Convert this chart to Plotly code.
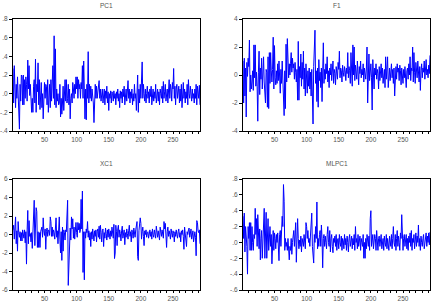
import numpy as np
import plotly.graph_objects as go

pc1 = [
 0.27,-0.1,0.3,0.05,-0.15,0.1,-0.05,0.18,0.02,-0.1,
 -0.38,0.1,-0.08,0.2,0.18,-0.12,0.2,-0.12,0.15,-0.05,
 0.18,0.1,-0.08,0.36,0.05,0.3,-0.02,0.1,-0.08,-0.2,
 -0.05,-0.2,0.08,0.15,-0.1,0.37,-0.2,0.1,0.02,0.33,
 -0.12,0.15,-0.17,0.08,0.12,-0.15,0.0,-0.27,0.05,0.12,
 -0.05,0.1,0.08,-0.12,0.15,-0.2,0.05,0.1,-0.15,0.15,
 -0.08,0.1,0.3,-0.05,0.62,-0.12,0.48,-0.15,0.05,-0.08,
 0.0,-0.12,-0.1,0.1,-0.25,-0.05,-0.22,-0.1,0.08,-0.18,
 -0.05,0.15,-0.08,0.15,-0.1,-0.05,0.1,-0.12,0.05,-0.27,
 -0.05,0.0,-0.1,0.12,0.05,-0.05,0.1,0.0,0.18,0.05,
 0.18,-0.05,0.15,0.05,0.1,-0.05,0.12,0.05,0.3,-0.05,
 0.35,-0.1,-0.27,0.05,-0.28,0.1,-0.05,0.45,-0.1,0.1,
 -0.05,0.08,-0.08,0.05,0.0,-0.1,-0.31,0.05,0.1,-0.05,
 0.08,-0.05,0.02,0.1,0.14,-0.05,0.05,-0.08,0.02,0.05,
 -0.1,0.0,0.05,-0.12,0.03,-0.05,0.08,-0.1,0.02,-0.18,
 0.0,-0.05,0.03,-0.1,0.02,0.0,-0.08,0.03,-0.05,0.0,
 -0.12,0.02,-0.05,0.05,-0.08,0.0,-0.15,0.03,-0.05,0.02,
 -0.1,0.05,-0.03,0.08,-0.12,0.0,0.05,-0.08,0.1,0.14,
 -0.05,0.05,-0.1,0.02,-0.05,0.05,-0.12,0.0,-0.08,0.1,
 -0.05,0.0,-0.18,0.05,0.2,-0.2,0.05,-0.1,0.1,-0.05,
 0.15,0.34,-0.05,0.1,0.0,-0.08,0.05,-0.1,0.0,0.08,
 -0.05,0.02,-0.1,0.05,-0.03,0.08,-0.12,0.0,0.05,-0.08,
 0.02,-0.05,0.1,-0.1,0.0,0.05,-0.08,0.02,-0.12,0.05,
 0.0,-0.05,0.08,-0.1,0.13,-0.05,0.02,0.1,-0.08,0.0,
 0.05,-0.1,0.12,0.15,-0.05,0.1,0.05,-0.08,0.12,0.05,
 0.27,-0.05,0.08,-0.12,0.05,0.1,-0.05,0.0,0.08,-0.1,
 0.05,-0.08,0.1,-0.15,0.0,0.12,-0.05,0.05,-0.1,0.02,
 -0.05,0.1,-0.12,0.15,0.0,-0.05,0.08,0.0,-0.08,0.05,
 -0.05,0.0,-0.1,0.05,-0.05,0.1,-0.12,0.08,0.0,-0.05,
 0.09,-0.12]

f1 = [
 1.0,-2.0,1.2,-1.5,0.5,-3.0,0.9,-0.1,1.2,0.6,
 2.5,-1.2,0.0,-1.0,-0.5,0.3,-1.1,2.15,-0.2,2.15,
 -0.8,0.2,-0.8,-3.3,0.2,1.7,-1.4,0.5,-0.3,1.2,
 -1.0,0.3,1.3,-0.5,-1.2,-2.0,0.4,0.2,-2.3,1.3,
 -2.4,1.6,-0.6,1.6,0.3,-0.5,0.4,2.7,-1.0,2.1,
 -0.2,-0.7,0.3,-0.6,0.8,-0.4,1.0,-0.3,-1.3,0.4,
 -0.6,1.0,-0.8,-1.3,-2.9,0.3,-2.4,2.2,-0.5,2.6,
 0.3,-0.2,0.8,0.0,0.8,1.6,0.2,1.2,0.5,0.8,
 -0.3,0.9,0.2,-0.5,0.4,-1.8,2.4,-1.8,0.6,-0.2,
 1.5,-0.8,0.9,-0.3,1.7,-1.0,0.5,-1.5,0.8,-0.5,
 -1.3,0.3,-0.8,0.5,-1.0,0.2,-1.5,0.4,-3.1,-3.5,
 0.6,3.2,3.2,-0.6,0.3,-1.9,0.5,-2.3,1.1,-0.4,
 0.2,-0.9,0.5,-1.9,0.3,2.3,-0.6,0.4,-0.3,0.8,
 0.1,1.3,-0.5,0.3,-0.9,0.5,0.0,0.8,-0.4,0.3,
 1.0,-0.6,0.4,0.1,-0.7,0.6,0.2,-0.3,0.9,0.4,
 1.7,-0.2,0.5,0.3,-0.5,0.7,0.2,-0.1,0.6,0.3,
 -0.4,0.5,0.1,1.6,-0.2,0.6,0.3,-0.6,1.6,0.4,
 -0.8,2.15,0.0,2.0,-0.4,0.7,0.3,-0.3,1.0,0.2,
 -0.7,0.6,0.1,1.0,-0.2,0.4,0.0,0.8,-0.5,0.5,
 0.2,-0.3,0.5,2.0,-2.0,0.6,1.5,-0.4,0.3,0.8,
 -0.2,-2.5,1.1,0.2,-1.0,0.5,0.0,0.8,-0.3,0.4,
 0.1,-1.0,0.6,-0.4,0.3,0.8,-0.2,0.5,-0.6,0.2,
 0.4,-0.9,1.3,-0.3,0.6,1.3,-0.9,0.2,0.5,-0.4,
 0.3,0.8,-0.2,0.4,-0.6,0.5,-1.5,0.1,0.6,-0.3,
 0.8,0.2,0.5,-0.4,0.7,0.3,-0.7,0.5,0.0,-0.6,
 0.4,-0.2,0.6,0.1,-0.9,0.3,0.5,-0.3,0.8,0.0,
 1.3,-0.4,0.5,0.3,2.0,-0.5,1.6,0.2,-0.6,0.9,
 0.4,-0.2,1.0,0.1,-0.5,0.6,-1.1,0.3,0.8,-0.2,
 0.5,0.2,1.0,-0.3,0.6,1.1,0.0,0.4,-0.2,0.7,
 0.1,1.4]

xc1 = [
 0.5,1.0,-0.5,0.3,1.9,-1.0,0.4,-1.8,1.4,0.2,
 -0.3,0.3,-0.7,0.2,-0.7,0.5,0.1,-0.4,0.5,-0.9,
 0.3,-3.2,0.5,2.6,-1.0,1.5,-0.2,0.1,-0.8,0.2,
 -1.5,0.3,1.4,3.7,-1.2,0.6,2.9,2.5,-1.4,0.3,
 -1.4,0.2,-1.4,0.3,0.5,0.8,-0.3,1.8,0.4,-0.1,
 0.6,-1.6,0.3,0.7,-0.2,0.5,0.4,-0.1,1.9,1.4,
 -0.2,0.8,-0.2,0.5,0.2,-0.5,0.9,1.8,-0.3,0.4,
 -1.0,0.6,1.9,-0.5,-2.0,0.3,-2.8,0.8,-1.8,0.5,
 0.2,-0.6,0.5,0.3,3.7,3.7,-5.5,-2.5,0.4,0.7,
 -0.6,1.9,0.6,1.7,-0.4,0.8,-0.5,0.9,1.3,0.2,
 -0.3,1.3,0.5,1.2,0.2,0.5,3.8,0.6,4.7,-4.1,
 0.3,-4.9,0.3,-0.4,0.6,0.2,1.4,-0.3,0.4,-0.6,
 0.2,-1.3,0.3,-0.5,0.6,0.1,-0.7,0.4,-0.2,0.5,
 -0.8,0.3,0.6,-0.3,0.9,-0.5,1.0,0.2,-0.8,0.4,
 0.6,-1.3,0.2,-0.4,0.7,0.1,-0.6,0.5,-0.3,0.6,
 0.2,-0.5,0.4,-0.2,0.8,0.3,-0.4,1.1,-2.6,-2.0,
 1.0,0.3,-1.2,0.6,1.0,-0.3,0.5,0.1,-0.7,0.4,
 0.9,-0.4,0.3,0.5,-1.1,0.2,-0.3,0.6,0.1,-0.5,
 0.4,1.0,-0.2,0.3,-0.8,0.5,0.2,-0.4,0.7,0.0,
 -0.3,0.5,1.0,1.4,-2.4,-2.8,0.4,1.2,1.8,1.2,
 -0.5,0.3,0.8,-0.2,-1.2,0.4,0.0,0.5,-0.3,0.2,
 0.3,-0.4,0.1,0.5,-0.2,0.3,-0.5,0.6,0.0,-0.3,
 0.5,0.1,-0.4,0.9,0.2,-0.3,0.4,0.0,-0.6,0.8,
 0.3,-0.2,0.5,0.1,-0.4,1.4,0.6,1.2,-0.6,-1.4,
 0.3,0.8,-0.2,0.4,0.0,-0.5,0.6,0.2,-0.3,0.4,
 0.1,-0.8,0.3,-0.2,0.5,0.0,-0.4,0.3,0.6,-0.3,
 0.2,-0.8,0.4,0.0,0.5,-0.2,-1.6,0.8,0.2,-0.4,
 -1.3,0.3,0.0,0.5,0.7,-0.3,0.2,0.6,-0.5,0.1,
 0.4,-0.8,0.0,0.3,-0.3,-2.3,1.5,1.3,0.4,0.2,
 0.5,-1.0]

mlpc1 = [
 0.33,0.05,0.37,-0.12,0.2,0.12,-0.05,-0.4,0.2,0.05,
 0.25,-0.1,0.25,-0.1,0.2,0.0,-0.1,0.1,0.05,0.43,
 0.1,0.3,-0.05,0.35,0.15,-0.08,0.17,-0.22,0.05,0.15,
 -0.2,0.05,0.1,0.43,-0.2,0.1,0.38,-0.2,0.05,0.3,
 -0.1,0.0,0.2,-0.05,0.1,-0.27,0.05,0.15,-0.1,0.12,
 0.05,-0.08,0.1,0.0,0.12,-0.05,-0.23,0.1,0.15,-0.05,
 0.1,0.33,0.2,0.73,0.52,-0.1,0.05,-0.05,0.0,-0.1,
 0.05,-0.1,-0.22,-0.05,-0.1,0.05,-0.15,0.0,0.05,0.15,
 -0.05,0.1,0.25,-0.25,0.05,0.3,0.05,-0.08,0.03,-0.05,
 0.08,-0.12,0.05,0.0,-0.05,0.1,0.02,-0.08,0.25,0.2,
 0.05,0.15,0.0,0.05,-0.05,0.1,0.35,0.37,-0.05,-0.26,
 -0.26,0.1,0.0,0.2,0.05,0.51,-0.08,0.05,-0.05,0.1,
 0.15,-0.05,0.22,0.05,-0.32,0.05,0.1,-0.05,0.08,0.0,
 -0.08,0.1,0.2,0.0,-0.05,0.15,-0.12,0.05,0.1,-0.05,
 -0.13,0.05,0.0,0.08,-0.05,0.1,-0.1,0.03,0.05,-0.08,
 0.1,0.0,-0.05,0.08,-0.1,0.05,0.02,-0.08,0.1,-0.03,
 0.05,-0.1,0.08,0.0,-0.12,0.05,0.1,-0.05,0.0,0.08,
 -0.08,0.05,-0.03,0.1,-0.1,0.2,0.0,0.05,-0.08,0.1,
 -0.05,0.03,0.08,-0.1,0.05,0.0,-0.05,0.1,-0.2,0.0,
 -0.2,0.05,-0.08,0.1,0.0,-0.05,0.08,-0.1,0.3,0.4,
 -0.05,0.05,0.1,-0.08,0.0,0.1,0.05,-0.1,0.15,0.0,
 -0.1,0.05,0.08,-0.05,0.0,0.1,-0.08,0.03,0.05,-0.1,
 0.08,0.0,-0.05,0.1,-0.08,0.05,0.0,-0.1,0.08,0.02,
 -0.05,0.1,-0.08,0.05,0.2,0.0,-0.05,0.1,-0.1,0.05,
 0.15,-0.05,0.08,0.0,-0.1,0.12,0.05,0.35,0.15,-0.1,
 0.05,0.1,-0.05,0.0,0.1,-0.08,0.05,-0.1,0.08,0.0,
 0.12,-0.05,0.15,-0.1,0.05,0.0,0.1,-0.08,0.05,0.12,
 -0.05,0.08,0.0,0.22,-0.05,0.05,-0.1,0.08,0.0,-0.05,
 0.05,0.1,-0.08,0.0,0.05,0.12,-0.05,0.08,0.0,0.12,
 -0.03,0.13]

titles = ["PC1", "F1", "XC1", "MLPC1"]
x_tickvals = [50, 100, 150, 200, 250]
x_ticktext = ["50", "100", "150", "200", "250"]

pc1_ticks = [0.8, 0.6, 0.4, 0.2, 0.0, -0.2, -0.4]
pc1_text = [".8", ".6", ".4", ".2", ".0", "-.2", "-.4"]
f1_ticks = [4, 2, 0, -2, -4]
f1_text = ["4", "2", "0", "-2", "-4"]
xc1_ticks = [6, 4, 2, 0, -2, -4, -6]
xc1_text = ["6", "4", "2", "0", "-2", "-4", "-6"]
ml_ticks = [0.8, 0.6, 0.4, 0.2, 0.0, -0.2, -0.4, -0.6]
ml_text = [".8", ".6", ".4", ".2", ".0", "-.2", "-.4", "-.6"]

series = [pc1, f1, xc1, mlpc1]
yticks = [(pc1_ticks, pc1_text), (f1_ticks, f1_text), (xc1_ticks, xc1_text), (ml_ticks, ml_text)]
yranges = [[-0.4, 0.8], [-4, 4], [-6, 6], [-0.6, 0.8]]

W, H = 432, 302
xdoms = [[13 / W, 200 / W], [243 / W, 430 / W], [13 / W, 200 / W], [243 / W, 430 / W]]
ydoms = [[1 - 131 / H, 1 - 19 / H], [1 - 131 / H, 1 - 19 / H],
         [1 - 290 / H, 1 - 179 / H], [1 - 290 / H, 1 - 179 / H]]
title_y = [1 - 6 / H, 1 - 6 / H, 1 - 163 / H, 1 - 163 / H]

fig = go.Figure()
font = dict(family="Liberation Sans, Arial, sans-serif", size=6.5, color="#555555")
layout = dict(template="none", width=W, height=H, margin=dict(l=0, r=0, t=0, b=0, pad=0),
              paper_bgcolor="white", plot_bgcolor="white", showlegend=False,
              font=font)
annotations = []
for i, s in enumerate(series):
    n = len(s)
    xs = list(range(1, n + 1))
    suffix = "" if i == 0 else str(i + 1)
    fig.add_trace(go.Scatter(x=xs, y=s, mode="lines",
                             line=dict(color="#0000ff", width=1),
                             xaxis="x" + suffix, yaxis="y" + suffix,
                             hoverinfo="skip"))
    layout["xaxis" + suffix] = dict(
        domain=xdoms[i], anchor="y" + suffix, range=[1, 292], automargin=False,
        showline=True, linecolor="black", linewidth=1, mirror=True,
        showgrid=False, zeroline=False,
        tickmode="array", tickvals=x_tickvals, ticktext=x_ticktext,
        ticks="outside", ticklen=2, tickcolor="black", tickwidth=1,
        minor=dict(ticks="outside", ticklen=2, dtick=10, tick0=0, tickcolor="black"),
        tickfont=font)
    layout["yaxis" + suffix] = dict(
        domain=ydoms[i], anchor="x" + suffix, range=yranges[i], automargin=False,
        showline=True, linecolor="black", linewidth=1, mirror=True,
        showgrid=False, zeroline=False,
        tickmode="array", tickvals=yticks[i][0], ticktext=yticks[i][1],
        ticks="outside", ticklen=3, tickcolor="black", tickwidth=1,
        tickfont=font)
    annotations.append(dict(text=titles[i], x=(xdoms[i][0] + xdoms[i][1]) / 2,
                            y=title_y[i], xref="paper", yref="paper",
                            showarrow=False, font=font, xanchor="center", yanchor="middle"))
layout["annotations"] = annotations
fig.update_layout(**layout)
fig.write_html("out.html", config={"displayModeBar": False},
               post_script="document.body.style.margin='0';document.body.style.padding='0';")
